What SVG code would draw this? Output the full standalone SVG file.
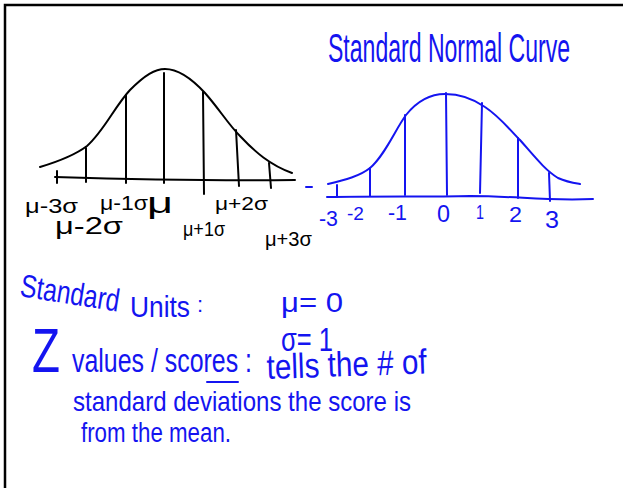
<svg xmlns="http://www.w3.org/2000/svg" width="623" height="488" viewBox="0 0 623 488">
<style>
.ink{fill:none;stroke:#000;stroke-width:2;stroke-linecap:round;stroke-linejoin:round}
.bl{fill:none;stroke:#1414f0;stroke-width:2;stroke-linecap:round;stroke-linejoin:round}
.tk{font-family:"Liberation Sans",Arial,sans-serif;fill:#000}
.tb{font-family:"Liberation Sans",Arial,sans-serif;fill:#1414f0}
</style>
<rect x="0" y="0" width="623" height="488" fill="#fff"/>
<path d="M5,488 V5 H623" fill="none" stroke="#000" stroke-width="2.5"/>

<g id="left-curve">
<path class="ink" d="M40,167 C60,161 75,155 87,146 C104,131 115,106 130,90 C145,75 155,69 165,69 C180,69 193,80 205,93 C220,110 228,124 240,136 C255,152 270,165 292,173"/>
<path class="ink" d="M55,177 C120,179 200,181 295,180"/>
<path class="ink" d="M57,171 V183 M86,148 V182 M126,95 V183 M164,73 V183 M203,92 L204,194 M236,130 L239,186 M269,163 L271,188"/>
<text class="tk" font-size="17" textLength="53" lengthAdjust="spacingAndGlyphs" transform="translate(25,213) scale(1,1.15)">μ-3σ</text>
<text class="tk" font-size="20" textLength="68" lengthAdjust="spacingAndGlyphs" transform="translate(55,234) scale(1,1.15)">μ-2σ</text>
<text class="tk" font-size="17" textLength="48" lengthAdjust="spacingAndGlyphs" transform="translate(100,210) scale(1,1.15)">μ-1σ</text>
<text class="tk" font-size="26" textLength="26" lengthAdjust="spacingAndGlyphs" transform="translate(147,213) scale(1,1.1)">μ</text>
<text class="tk" font-size="17" textLength="42" lengthAdjust="spacingAndGlyphs" transform="translate(183,236) scale(1,1.15)">μ+1σ</text>
<text class="tk" font-size="17" textLength="53" lengthAdjust="spacingAndGlyphs" transform="translate(215,210) scale(1,1.1)">μ+2σ</text>
<text class="tk" font-size="17" textLength="47" lengthAdjust="spacingAndGlyphs" transform="translate(265,246) scale(1,1.15)">μ+3σ</text>
</g>

<g id="right-curve">
<text class="tb" font-size="23" textLength="242" lengthAdjust="spacingAndGlyphs" transform="translate(328,62) scale(1,1.75)">Standard Normal Curve</text>
<path class="bl" d="M328,184 C345,180 360,176 370,168 C385,155 395,130 406,115 C418,100 430,94 445,94 C460,94 475,100 485,107 C500,117 510,130 520,140 C535,157 545,170 558,178 C567,182 574,183 580,184"/>
<path class="bl" d="M327,197 C380,196 430,197 470,196 C520,196 540,201 593,199"/>
<path class="bl" d="M337,185 V197 M370,168 V196 M405,115 V195 M446,93 L447,195 M482,103 L480,193 M518,138 V198 M549,173 L550,201"/>
<path class="bl" d="M306,187 H312"/>
<text class="tb" font-size="18" textLength="19" lengthAdjust="spacingAndGlyphs" transform="translate(319,226) scale(1,1.2)">-3</text>
<text class="tb" font-size="17" textLength="17" lengthAdjust="spacingAndGlyphs" transform="translate(347,220) scale(1,1.1)">-2</text>
<text class="tb" font-size="18" textLength="19" lengthAdjust="spacingAndGlyphs" transform="translate(388,220) scale(1,1.2)">-1</text>
<text class="tb" font-size="22" textLength="13" lengthAdjust="spacingAndGlyphs" transform="translate(437,222) scale(1,1.1)">0</text>
<text class="tb" font-size="18" textLength="8" lengthAdjust="spacingAndGlyphs" transform="translate(476,219) scale(1,1.1)">1</text>
<text class="tb" font-size="20" textLength="13" lengthAdjust="spacingAndGlyphs" transform="translate(509,222) scale(1,1.1)">2</text>
<text class="tb" font-size="22" textLength="14" lengthAdjust="spacingAndGlyphs" transform="translate(545,228) scale(1,1.1)">3</text>
</g>

<g id="notes">
<text class="tb" font-size="24.6" textLength="100" lengthAdjust="spacingAndGlyphs" transform="translate(19,296) rotate(9) scale(1,1.3)">Standard</text>
<text class="tb" font-size="26" textLength="60" lengthAdjust="spacingAndGlyphs" transform="translate(130,317) scale(1,1.1)">Units</text>
<text class="tb" font-size="22" transform="translate(197,312)">:</text>
<text class="tb" font-size="28" textLength="62" lengthAdjust="spacingAndGlyphs" transform="translate(281,312)">μ= 0</text>
<text class="tb" font-size="26" textLength="52" lengthAdjust="spacingAndGlyphs" transform="translate(281,351) scale(1,1.3)">σ= 1</text>
<text class="tb" font-size="44" textLength="28" lengthAdjust="spacingAndGlyphs" transform="translate(32,372) scale(1,1.43)">Z</text>
<text class="tb" font-size="25" textLength="180" lengthAdjust="spacingAndGlyphs" transform="translate(72,372) scale(1,1.3)">values / scores :</text>
<path class="bl" d="M207,382 H238"/>
<text class="tb" font-size="28" textLength="160" lengthAdjust="spacingAndGlyphs" transform="translate(267,379) rotate(-2) scale(1,1.25)">tells the # of</text>
<text class="tb" font-size="24" textLength="338" lengthAdjust="spacingAndGlyphs" transform="translate(73,411) scale(1,1.15)">standard deviations the score is</text>
<text class="tb" font-size="22.3" textLength="150" lengthAdjust="spacingAndGlyphs" transform="translate(81,442) scale(1,1.2)">from the mean.</text>
</g>
</svg>
